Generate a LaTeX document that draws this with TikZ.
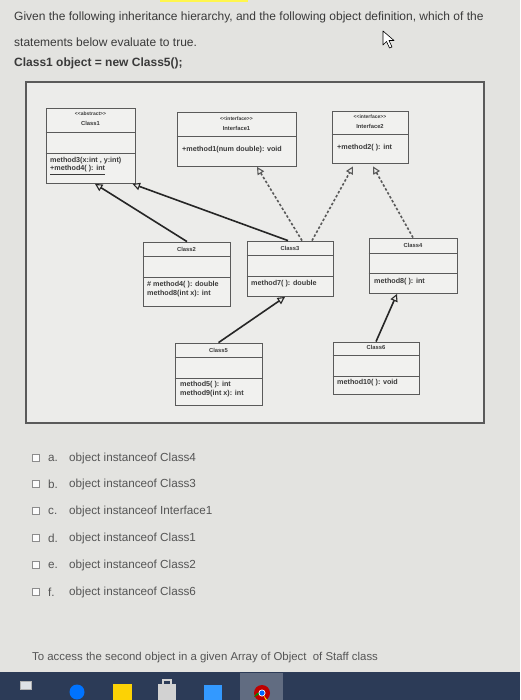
\documentclass[tikz,border=0pt]{standalone}
\usepackage{fontspec}
\setmainfont{Liberation Sans}
\usetikzlibrary{arrows.meta}
\definecolor{pagebg}{HTML}{E3E3E0}
\definecolor{framebg}{HTML}{ECECEA}
\definecolor{boxbg}{HTML}{F1F1EF}
\definecolor{txt}{HTML}{3A3A3A}
\definecolor{opttxt}{HTML}{555555}
\definecolor{edge}{HTML}{5A5A5A}
\definecolor{task}{HTML}{2C3B57}
\newcommand{\stlt}{<\kern0.1pt<}
\newcommand{\stgt}{>\kern0.1pt>}
\tikzset{
  umlbox/.style={draw=edge, line width=0.8pt, fill=boxbg, inner sep=0pt},
  divline/.style={draw=edge, line width=0.8pt},
  cname/.style={font=\fontsize{5.8}{7}\selectfont\bfseries, text=txt, inner sep=0pt},
  stereo/.style={font=\fontsize{5}{6}\selectfont\bfseries, text=txt, inner sep=0pt},
  meth/.style={font=\fontsize{7.2}{8}\selectfont\bfseries, text=txt, inner sep=0pt, anchor=west},
  gen/.style={draw=black!85, line width=1.6pt, -{Triangle[open, length=7.5pt, width=7.5pt, line width=1.1pt]}},
  real/.style={draw=black!65, line width=1.6pt, dash pattern=on 2.5pt off 2pt, -{Triangle[open, length=7.5pt, width=7.5pt, line width=1.1pt]}},
  question/.style={font=\fontsize{12}{14}\selectfont, text=txt, inner sep=0pt, anchor=west},
  option/.style={font=\fontsize{11.7}{13}\selectfont, text=opttxt, inner sep=0pt, anchor=west},
  chk/.style={draw=black!45, fill=white!90!pagebg, line width=0.6pt, minimum size=6.5pt, inner sep=0pt}
}
\begin{document}
\begin{tikzpicture}[x=1pt,y=-1pt]
\useasboundingbox (0,0) rectangle (520,700);
\fill[pagebg] (0,0) rectangle (520,700);
\fill[yellow!70!white] (160,0) rectangle (248,2);

% question text
\node[question] (q1) at (14,17) {Given the following inheritance hierarchy, and the following object definition, which of the};
\node[question] (q2) at (14,42) {statements below evaluate to true.};
\node[question, font=\fontsize{12}{14}\selectfont\bfseries] (q3) at (14,63) {Class1 object = new Class5();};

% mouse cursor
\draw[black, fill=white, line width=0.6pt, line join=round] (383,31) -- (383,45) -- (386.5,41.5) -- (389.5,48) -- (392,47) -- (389,40.5) -- (394,40.5) -- cycle;

% frame
\draw[draw=edge, line width=1.2pt, fill=framebg] (26,82) rectangle (484,423);

% Class1
\node[umlbox, minimum width=89pt, minimum height=75pt] (c1) at (90.5,145.5) {};
\draw[divline] (c1.west |- 0,132) -- (c1.east |- 0,132);
\draw[divline] (c1.west |- 0,153) -- (c1.east |- 0,153);
\node[stereo] (c1s) at (90.5,114) {\stlt abstract\stgt};
\node[cname] (c1n) at (90.5,123) {Class1};
\node[meth] (c1m1) at (50,161) {method3(x:int , y:int)};
\node[meth] (c1m2) at (50,170) {\underline{+method4( ): int}};

% Interface1
\node[umlbox, minimum width=119pt, minimum height=54pt] (i1) at (236.5,139) {};
\draw[divline] (i1.west |- 0,136) -- (i1.east |- 0,136);
\node[stereo] (i1s) at (236.5,119) {\stlt interface\stgt};
\node[cname] (i1n) at (236.5,128) {Interface1};
\node[meth] (i1m1) at (182,150) {+method1(num double): void};

% Interface2
\node[umlbox, minimum width=76pt, minimum height=52pt] (i2) at (370,137) {};
\draw[divline] (i2.west |- 0,134) -- (i2.east |- 0,134);
\node[stereo] (i2s) at (370,117) {\stlt interface\stgt};
\node[cname] (i2n) at (370,126) {Interface2};
\node[meth] (i2m1) at (337,148) {+method2( ): int};

% Class2
\node[umlbox, minimum width=87pt, minimum height=64pt] (c2) at (186.5,274) {};
\draw[divline] (c2.west |- 0,256) -- (c2.east |- 0,256);
\draw[divline] (c2.west |- 0,277) -- (c2.east |- 0,277);
\node[cname] (c2n) at (186.5,249) {Class2};
\node[meth] (c2m1) at (147,285) {\# method4( ): double};
\node[meth] (c2m2) at (147,294) {method8(int x): int};

% Class3
\node[umlbox, minimum width=86pt, minimum height=55pt] (c3) at (290,268.5) {};
\draw[divline] (c3.west |- 0,255) -- (c3.east |- 0,255);
\draw[divline] (c3.west |- 0,276) -- (c3.east |- 0,276);
\node[cname] (c3n) at (290,248) {Class3};
\node[meth] (c3m1) at (251,284) {method7( ): double};

% Class4
\node[umlbox, minimum width=88pt, minimum height=55pt] (c4) at (413,265.5) {};
\draw[divline] (c4.west |- 0,253) -- (c4.east |- 0,253);
\draw[divline] (c4.west |- 0,273) -- (c4.east |- 0,273);
\node[cname] (c4n) at (413,245) {Class4};
\node[meth] (c4m1) at (374,282) {method8( ): int};

% Class5
\node[umlbox, minimum width=87pt, minimum height=62pt] (c5) at (218.5,374) {};
\draw[divline] (c5.west |- 0,357) -- (c5.east |- 0,357);
\draw[divline] (c5.west |- 0,378) -- (c5.east |- 0,378);
\node[cname] (c5n) at (218.5,350) {Class5};
\node[meth] (c5m1) at (180,385) {method5( ): int};
\node[meth] (c5m2) at (180,394) {method9(int x): int};

% Class6
\node[umlbox, minimum width=86pt, minimum height=52pt] (c6) at (376,368) {};
\draw[divline] (c6.west |- 0,355) -- (c6.east |- 0,355);
\draw[divline] (c6.west |- 0,376) -- (c6.east |- 0,376);
\node[cname] (c6n) at (376,347) {Class6};
\node[meth] (c6m1) at (337,383) {method10( ): void};

% connectors
\draw[gen] ([xshift=0.5pt]c2.north) -- ([xshift=4.5pt, yshift=-0.5pt]c1.south);
\draw[gen] ([xshift=-2pt]c3.north) -- ([xshift=42pt, yshift=-0.5pt]c1.south);
\draw[real] ([xshift=12pt]c3.north) -- ([xshift=20.5pt, yshift=-0.5pt]i1.south);
\draw[real] ([xshift=22pt]c3.north) -- ([xshift=-17pt, yshift=-3pt]i2.south);
\draw[real] (c4.north) -- ([xshift=3pt, yshift=-3pt]i2.south);
\draw[gen] (c5.north) -- ([xshift=-5pt, yshift=-0.5pt]c3.south);
\draw[gen] (c6.north) -- ([xshift=-16pt, yshift=-0.5pt]c4.south);

% options
\foreach \yy/\ll/\tt [count=\k] in {458/a./Class4, 484/b./Class3, 511/c./Interface1, 538/d./Class1, 565/e./Class2, 592/f./Class6}{
  \node[chk] (cb\k) at (36,\yy) {};
  \node[option] (ol\k) at (48,\yy) {\ll};
  \node[option] (ot\k) at (69,\yy) {object instanceof \tt};
}

\node[option, font=\fontsize{11.4}{13}\selectfont] (bottom) at (32,658) {To access the second object in a given Array of Object\ \ of Staff class};

% taskbar
\fill[task] (0,672) rectangle (520,700);
\fill[task!75!white] (240,673) rectangle (283,700);
\fill[gray!60] (20,681) rectangle (32,690);
\fill[white!85!task] (21,682) rectangle (31,689);
\fill[blue!55!cyan] (77,692) circle (7.5);
\fill[yellow!70!orange] (113,684) rectangle (132,700);
\fill[gray!35] (158,684) rectangle (176,700);
\draw[gray!35, line width=1.2pt] (163,684) -- (163,680) -- (171,680) -- (171,684);
\fill[blue!50!cyan!80!white] (204,685) rectangle (222,700);
\fill[red!75!black] (262,693) circle (8);
\fill[green!55!black] (262,693) -- (254,697) arc (200:300:8) -- cycle;
\fill[yellow!80!orange] (262,693) -- (268,701) arc (300:380:8) -- cycle;
\fill[white] (262,693) circle (3.5);
\fill[blue!60!cyan] (262,693) circle (2.6);
\end{tikzpicture}
\end{document}
